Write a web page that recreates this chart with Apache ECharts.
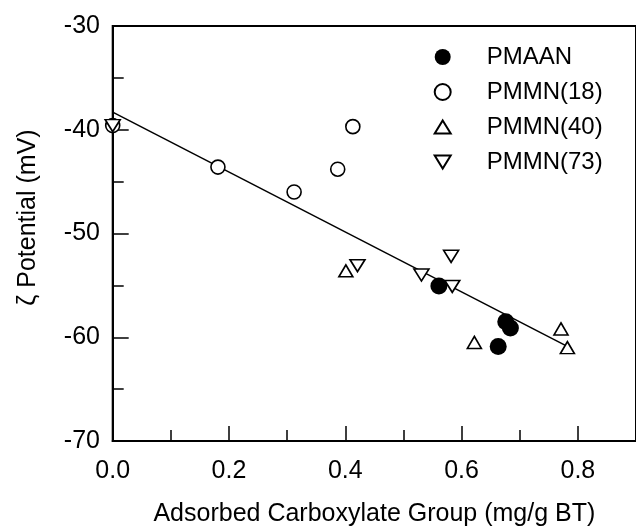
<!DOCTYPE html>
<html>
<head>
<meta charset="utf-8">
<script src="https://cdn.jsdelivr.net/npm/echarts@6/dist/echarts.min.js"></script>
<style>
html,body{margin:0;padding:0;background:#fff;}
#chart{width:636px;height:532px;}
</style>
</head>
<body>
<div id="chart"></div>
<script>
// ---- data ----
const seriesNames = ['PMAAN', 'PMMN(18)', 'PMMN(40)', 'PMMN(73)'];
const pmaanX  = [0.561, 0.676, 0.684, 0.663];
const pmaanY  = [-55.05, -58.5, -59.1, -60.9];
const pmmn18X = [0.0, 0.181, 0.312, 0.387, 0.413];
const pmmn18Y = [-39.6, -43.6, -46.0, -43.8, -39.7];
const pmmn40X = [0.401, 0.622, 0.771, 0.782];
const pmmn40Y = [-53.6, -60.5, -59.2, -61.0];
const pmmn73X = [0.0, 0.421, 0.531, 0.582, 0.584];
const pmmn73Y = [-39.6, -53.1, -54.0, -52.2, -55.1];
const fitX = [0.0, 0.786];
const fitY = [-38.3, -61.0];
const xTickLabels = ['0.0', '0.2', '0.4', '0.6', '0.8'];
const yTickLabels = ['-70', '-60', '-50', '-40', '-30'];
const xTitle = 'Adsorbed Carboxylate Group (mg/g BT)';
const yTitle = 'ζ Potential (mV)';

function pairs(xs, ys) { return xs.map((x, i) => [x, ys[i]]); }

const FONT = '"Liberation Sans", Arial, sans-serif';
const chart = echarts.init(document.getElementById('chart'), null, {renderer: 'canvas'});

const UP_TRI = 'path://M8,0L16,13L0,13Z';
const DOWN_TRI = 'path://M0,0L16,0L8,13Z';

const option = {
  animation: false,
  backgroundColor: '#fff',
  grid: {
    left: 112.7, top: 26, right: -3, bottom: 86,
    show: true, borderColor: '#000', borderWidth: 2, backgroundColor: 'transparent'
  },
  legend: {
    orient: 'vertical',
    left: 433.7, top: 45,
    padding: 0,
    itemWidth: 16, itemHeight: 16, itemGap: 11,
    textStyle: {fontFamily: FONT, fontSize: 24, color: '#000', padding: [0, 0, 0, 31]},
    data: [
      {name: seriesNames[0], icon: 'circle'},
      {name: seriesNames[1], icon: 'circle'},
      {name: seriesNames[2], icon: UP_TRI},
      {name: seriesNames[3], icon: DOWN_TRI}
    ]
  },
  xAxis: {
    type: 'value', min: 0, max: 0.9, interval: 0.2,
    name: xTitle, nameLocation: 'middle', nameGap: 61,
    nameTextStyle: {fontFamily: FONT, fontSize: 25, color: '#000'},
    axisLine: {show: true, onZero: false, lineStyle: {color: '#000', width: 2}},
    axisTick: {show: true, inside: true, length: 15, lineStyle: {color: '#000', width: 1.5}},
    minorTick: {show: true, splitNumber: 2, length: 11, lineStyle: {color: '#000', width: 1.5}},
    axisLabel: {
      fontFamily: FONT, fontSize: 25, color: '#000', margin: 18,
      showMaxLabel: false,
      formatter: function (v) {
        const s = v.toFixed(1);
        return xTickLabels.indexOf(s) >= 0 ? s : '';
      }
    },
    splitLine: {show: false}
  },
  yAxis: {
    type: 'value', min: -70, max: -30, interval: 10,
    name: yTitle, nameLocation: 'middle', nameGap: 72,
    nameTextStyle: {fontFamily: FONT, fontSize: 25, color: '#000', padding: [0, 0, 0, 32]},
    axisLine: {show: true, onZero: false, lineStyle: {color: '#000', width: 2}},
    axisTick: {show: true, inside: true, length: 16, lineStyle: {color: '#000', width: 1.5}},
    minorTick: {show: true, splitNumber: 2, length: 11, lineStyle: {color: '#000', width: 1.5}},
    axisLabel: {
      fontFamily: FONT, fontSize: 25, color: '#000', margin: 12.7,
      formatter: function (v) {
        const s = String(Math.round(v));
        return yTickLabels.indexOf(s) >= 0 ? s : '';
      }
    },
    splitLine: {show: false}
  },
  series: [
    {
      name: 'fit', type: 'line', data: pairs(fitX, fitY),
      showSymbol: false, symbol: 'none', z: 1, silent: true,
      lineStyle: {color: '#000', width: 1.5}
    },
    {
      name: seriesNames[0], type: 'scatter', data: pairs(pmaanX, pmaanY), z: 3,
      symbol: 'circle', symbolSize: 17,
      itemStyle: {color: '#000', borderColor: '#000', borderWidth: 0, opacity: 1}
    },
    {
      name: seriesNames[1], type: 'scatter', data: pairs(pmmn18X, pmmn18Y), z: 3,
      symbol: 'circle', symbolSize: 14,
      itemStyle: {color: '#fff', borderColor: '#000', borderWidth: 1.6, opacity: 1}
    },
    {
      name: seriesNames[2], type: 'scatter', data: pairs(pmmn40X, pmmn40Y), z: 3,
      symbol: 'triangle', symbolSize: [14, 12],
      itemStyle: {color: '#fff', borderColor: '#000', borderWidth: 1.6, opacity: 1}
    },
    {
      name: seriesNames[3], type: 'scatter', data: pairs(pmmn73X, pmmn73Y), z: 3,
      symbol: 'triangle', symbolRotate: 180, symbolSize: [15, 12],
      itemStyle: {color: '#fff', borderColor: '#000', borderWidth: 1.6, opacity: 1}
    }
  ]
};
chart.setOption(option);
</script>
</body>
</html>
